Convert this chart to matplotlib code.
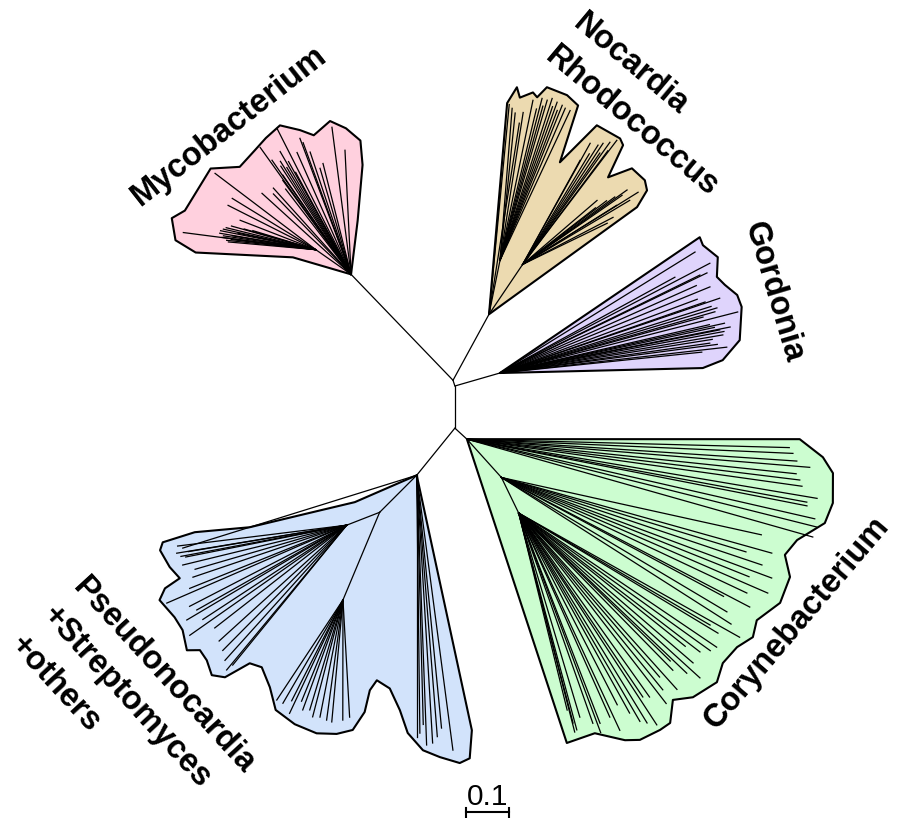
import numpy as np
import matplotlib.pyplot as plt
from matplotlib.patches import Polygon

plt.rcParams['font.family'] = ['Liberation Sans', 'DejaVu Sans']

# backbone of the unrooted tree: angle (deg), branch length (subst./site)
bb_node = ['top', 'bottom', 'Mycobacterium', 'Nocardia', 'Gordonia', 'Corynebacterium', 'Pseudonocardia']
bb_parent = ['hub', 'hub', 'top', 'top', 'hub', 'bottom', 'bottom']
bb_angle = [108, -90, 133.9, 61.4, 16.1, -42.5, -129]
bb_length = [0.014, 0.098, 0.342, 0.175, 0.109, 0.038, 0.141]

# --- Mycobacterium ---
myco_color = '#ffd0de'
myco_hull_ang = [163.7, 172, 169, 162.6, 159, 143, 136, 128, 122, 115.5, 109.5, 105, 97.8, 92, 86, 84, 83]
myco_hull_len = [0.141, 0.365, 0.416, 0.437, 0.414, 0.409, 0.36, 0.365, 0.374, 0.384, 0.356, 0.335, 0.36, 0.34, 0.312, 0.256, 0.126]
myco_node_ang = [145]
myco_node_len = [0.10]
myco_node_parent = [-1]
myco_tip_ang = [166.0, 143.4, 147.4, 150.7, 154.0, 158, 159.5, 160.5, 161.5, 162.6, 163.2, 164, 164.7, 165.2, 163.8, 162, 160, 157, 156,
                137.7, 134, 132, 125.6, 124.7, 123, 124.5, 122, 121, 126, 127.5, 120, 119, 118.5,
                116.9, 113.9, 110.6, 110.0, 108.5, 106.3, 104.2, 97.4, 92.8]
myco_tip_len = [0.402, 0.394, 0.328, 0.328, 0.287, 0.30, 0.31, 0.315, 0.32, 0.32, 0.31, 0.312, 0.30, 0.295, 0.29, 0.29, 0.28, 0.27, 0.25,
                0.28, 0.26, 0.27, 0.363, 0.323, 0.30, 0.28, 0.31, 0.29, 0.27, 0.25, 0.33, 0.30, 0.27,
                0.381, 0.31, 0.338, 0.326, 0.30, 0.257, 0.266, 0.345, 0.289]
myco_tip_node = [0] * 19 + [-1] * 23

# --- Nocardia / Rhodococcus ---
noca_color = '#ecdab0'
noca_hull_ang = [85.1, 83.0, 81.9, 78.8, 77.5, 75.7, 70.4, 66.9, 65.0, 60.3, 53.3, 51.6, 49.0, 45.6, 40.7, 38.1, 35.9]
noca_hull_len = [0.493, 0.532, 0.509, 0.526, 0.517, 0.545, 0.541, 0.528, 0.39, 0.506, 0.51, 0.502, 0.422, 0.475, 0.478, 0.467, 0.425]
noca_node_ang = [78.5, 56]
noca_node_len = [0.128, 0.14]
noca_node_parent = [-1, -1]
noca_tip_ang = [84.5, 81,
                83.6, 82.6, 80.4, 78.4, 76.2, 74.8, 73.7, 72.2, 70.7, 69.7, 68.3, 77, 75.5, 73, 71.5,
                59.4, 57.2, 56.3, 54.9, 53.7, 59.4, 58, 55.5, 54,
                39.3, 42, 38, 46.5, 37.6, 41.8, 39, 40.5, 44, 43, 45]
noca_tip_len = [0.49, 0.45,
                0.482, 0.472, 0.476, 0.508, 0.517, 0.516, 0.523, 0.518, 0.515, 0.511, 0.51, 0.49, 0.5, 0.505, 0.5,
                0.462, 0.468, 0.478, 0.489, 0.502, 0.416, 0.44, 0.455, 0.47,
                0.448, 0.432, 0.366, 0.365, 0.347, 0.415, 0.421, 0.39, 0.38, 0.40, 0.35]
noca_tip_node = [-1] * 2 + [0] * 15 + [1] * 20

# --- Gordonia ---
gord_color = '#dfd4fc'
gord_hull_ang = [1.4, 3.3, 7.8, 15.3, 18.2, 21.4, 23.9, 28.0, 32.2, 34.2]
gord_hull_len = [0.472, 0.519, 0.563, 0.583, 0.581, 0.562, 0.552, 0.574, 0.558, 0.562]
gord_node_ang = []
gord_node_len = []
gord_node_parent = []
gord_tip_ang = [31.8, 27.6, 28.7, 26.1, 25.8, 22.3, 18.8, 19.1, 16.7, 14.4, 11.3, 11.1, 9.7, 6.5, 5.9, 8.1, 15.4,
                13, 12, 10.5, 9, 7.5, 17.5, 20.5, 24, 15.9, 12.5]
gord_tip_len = [0.534, 0.551, 0.464, 0.518, 0.535, 0.528, 0.54, 0.505, 0.527, 0.571, 0.546, 0.521, 0.526, 0.531, 0.472, 0.493, 0.49,
                0.5, 0.51, 0.53, 0.5, 0.51, 0.515, 0.49, 0.5, 0.52, 0.535]
gord_tip_node = [-1] * 27

# --- Corynebacterium ---
cory_color = '#ccfdd0'
cory_hull_ang = [0, -2.9, -5.3, -9.9, -13.2, -17.0, -20.0, -23.1, -27.6, -32.0, -34.7, -37.6, -41.2, -44.2, -48.8,
                 -51.7, -54.4, -56.4, -60.1, -62.3, -66.5, -71.8]
cory_hull_len = [0.774, 0.829, 0.855, 0.864, 0.855, 0.803, 0.787, 0.817, 0.822, 0.795, 0.809, 0.793, 0.791, 0.811, 0.798,
                 0.773, 0.812, 0.812, 0.807, 0.791, 0.746, 0.744]
cory_node_ang = [-48, -55]
cory_node_len = [0.12, 0.21]
cory_node_parent = [-1, 0]
cory_tip_ang = [-2.5, -3.8, -4.7, -8.0, -9.6, -10.5, -11.1, -12.9, -14.1, -15.8, -6, -7, -1.5,
                -20.5, -23.1, -24.5, -27.1, -30.7, -28.8, -33.6, -18, -22, -26, -31.5, -35,
                -36.0, -37.7, -37.4, -39.8, -42.4, -45.7, -44.7, -46.8, -48.3, -52.0, -51.0, -54.7, -56.4, -57.6,
                -55.7, -59.3, -62.3, -62.8, -64.9, -66.1, -67.9, -69.3, -69.5, -69.7, -69.8, -41, -43.5, -50, -53,
                -60.5, -65.5, -58.5, -47.5]
cory_tip_len = [0.759, 0.769, 0.8, 0.787, 0.826, 0.804, 0.806, 0.83, 0.839, 0.836, 0.77, 0.78, 0.75,
                0.757, 0.746, 0.779, 0.786, 0.765, 0.743, 0.726, 0.72, 0.7, 0.73, 0.7, 0.75,
                0.784, 0.738, 0.712, 0.756, 0.734, 0.776, 0.74, 0.747, 0.72, 0.74, 0.712, 0.735, 0.798, 0.782,
                0.726, 0.741, 0.765, 0.727, 0.73, 0.723, 0.698, 0.723, 0.705, 0.672, 0.726, 0.75, 0.7, 0.76, 0.77,
                0.71, 0.75, 0.77, 0.7]
cory_tip_node = [-1] * 13 + [0] * 12 + [1] * 33

# --- Pseudonocardia + Streptomyces + others ---
pseu_color = '#d2e3fb'
pseu_hull_ang = [-156.5, -161.1, -162.7, -165.6, -165.2, -163.7, -159.6, -156.5, -155.8, -154.1, -149.6, -146.5,
                 -142.7, -141.1, -138.6, -135.7, -133.5, -131.6, -128.9, -124.7, -121.0, -116.1, -111.2, -107.2,
                 -104.1, -102.4, -102.3, -101.0, -97.2, -94.1, -92.0, -88.7, -85.3, -81.5, -79.4, -77.8]
pseu_hull_len = [0.157, 0.287, 0.407, 0.533, 0.611, 0.622, 0.613, 0.601, 0.642, 0.665, 0.653, 0.653,
                 0.672, 0.648, 0.651, 0.666, 0.648, 0.585, 0.574, 0.6, 0.637, 0.645, 0.644, 0.63,
                 0.611, 0.564, 0.512, 0.486, 0.5, 0.548, 0.6, 0.64, 0.658, 0.677, 0.67, 0.607]
pseu_node_ang = [-135, -144.5, -120.6]
pseu_node_len = [0.122, 0.20, 0.337]
pseu_node_parent = [-1, 0, 0]
pseu_tip_ang = [-162.7, -90, -89.3, -87.9, -86.6, -84.4, -82.5, -88.5, -85.5,
                -162, -161, -160.5, -159, -155.5, -153.5, -152.9, -148.5, -147.8, -144.8, -142.9, -137.9, -134.3,
                -134.1, -150, -146, -140, -136, -157, -163.5, -161.5,
                -121.9, -120.4, -118.1, -115.9, -113.3, -111.8, -110.2, -109.0, -106.8, -105.5, -119, -117, -114.5]
pseu_tip_len = [0.57, 0.609, 0.6, 0.628, 0.624, 0.591, 0.645, 0.58, 0.61,
                0.587, 0.58, 0.57, 0.583, 0.572, 0.59, 0.653, 0.6, 0.632, 0.646, 0.589, 0.608, 0.633,
                0.615, 0.61, 0.6, 0.6, 0.62, 0.56, 0.58, 0.56,
                0.616, 0.615, 0.628, 0.607, 0.612, 0.606, 0.607, 0.607, 0.595, 0.584, 0.6, 0.59, 0.6]
pseu_tip_node = [-1] * 9 + [1] * 21 + [2] * 13

# clade labels (multi-line ones are anchored at the baseline start of the first line)
label_text = [['Mycobacterium'], ['Nocardia', 'Rhodococcus'], ['Gordonia'], ['Corynebacterium'],
              ['Pseudonocardia', '+Streptomyces', '+others']]
label_x = [-0.526, 0.272, 0.742, 0.796, -0.890]
label_y = [0.605, 0.837, 0.219, -0.551, -0.469]
label_rot = [38.2, -40, -73.4, 49.6, -47.5]
label_ha = ['center', 'left', 'center', 'center', 'left']
label_va = ['center', 'baseline', 'center', 'center', 'baseline']
line_gap = 0.1

scale_len = 0.1


def polar(ang, length):
    a = np.radians(ang)
    return np.array([length * np.cos(a), length * np.sin(a)])


fig = plt.figure(figsize=(8.99, 8.18), dpi=100)
ax = fig.add_axes([0, 0, 1, 1])
ax.set_xlim(-1.058, 1.033)
ax.set_ylim(-1.005, 0.898)
ax.axis('off')

# backbone
pos = {'hub': np.array([0.0, 0.0])}
for name, parent, a, l in zip(bb_node, bb_parent, bb_angle, bb_length):
    pos[name] = pos[parent] + polar(a, l)
    ax.plot([pos[parent][0], pos[name][0]], [pos[parent][1], pos[name][1]],
            color='black', lw=0.9, solid_capstyle='round', zorder=3)

clades = [
    ('Mycobacterium', myco_color, myco_hull_ang, myco_hull_len, myco_node_ang, myco_node_len, myco_node_parent,
     myco_tip_ang, myco_tip_len, myco_tip_node),
    ('Nocardia', noca_color, noca_hull_ang, noca_hull_len, noca_node_ang, noca_node_len, noca_node_parent,
     noca_tip_ang, noca_tip_len, noca_tip_node),
    ('Gordonia', gord_color, gord_hull_ang, gord_hull_len, gord_node_ang, gord_node_len, gord_node_parent,
     gord_tip_ang, gord_tip_len, gord_tip_node),
    ('Corynebacterium', cory_color, cory_hull_ang, cory_hull_len, cory_node_ang, cory_node_len, cory_node_parent,
     cory_tip_ang, cory_tip_len, cory_tip_node),
    ('Pseudonocardia', pseu_color, pseu_hull_ang, pseu_hull_len, pseu_node_ang, pseu_node_len, pseu_node_parent,
     pseu_tip_ang, pseu_tip_len, pseu_tip_node),
]

for name, color, h_ang, h_len, n_ang, n_len, n_par, t_ang, t_len, t_node in clades:
    root = pos[name]
    hull = [root] + [root + polar(a, l) for a, l in zip(h_ang, h_len)]
    ax.add_patch(Polygon(hull, closed=True, facecolor=color, edgecolor='black',
                         lw=1.5, joinstyle='round', zorder=1))
    nodes = []
    for a, l, p in zip(n_ang, n_len, n_par):
        xy = root + polar(a, l)
        start = root if p < 0 else nodes[p]
        ax.plot([start[0], xy[0]], [start[1], xy[1]], color='black', lw=0.9, zorder=2)
        nodes.append(xy)
    for a, l, k in zip(t_ang, t_len, t_node):
        start = root if k < 0 else nodes[k]
        end = root + polar(a, l)
        ax.plot([start[0], end[0]], [start[1], end[1]], color='black', lw=0.9, zorder=2)

for lines, x, y, r, ha, va in zip(label_text, label_x, label_y, label_rot, label_ha, label_va):
    # each further line is shifted "down" in the rotated text frame
    step = polar(r - 90, line_gap)
    for i, txt in enumerate(lines):
        ax.text(x + i * step[0], y + i * step[1], txt, rotation=r, rotation_mode='anchor',
                ha=ha, va=va, fontsize=23.5, fontweight='bold')

# scale bar
sx0, sy = 0.0256, -0.992
ax.plot([sx0, sx0 + scale_len], [sy, sy], color='black', lw=1.5)
for sx in (sx0, sx0 + scale_len):
    ax.plot([sx, sx], [sy - 0.011, sy + 0.011], color='black', lw=1.5)
ax.text(sx0 + scale_len / 2, -0.974, '0.1', ha='center', va='baseline', fontsize=21.5)

fig.savefig('out.png', dpi=100, facecolor='white')
